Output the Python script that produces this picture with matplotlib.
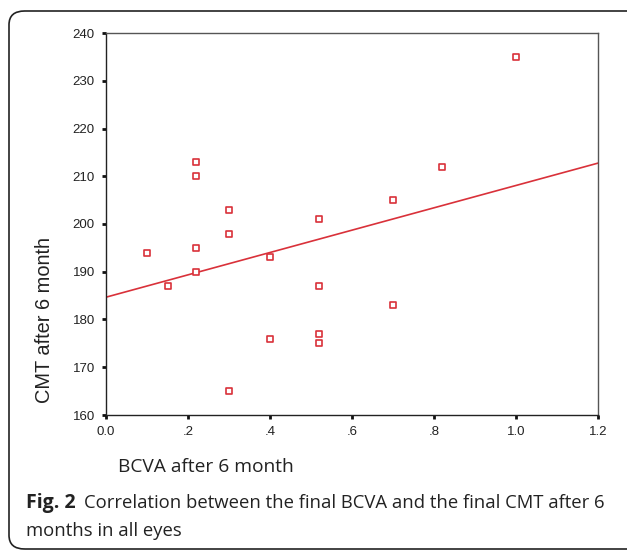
import numpy as np
import matplotlib.pyplot as plt
from matplotlib.patches import FancyBboxPatch

# Datos: BCVA y CMT a los 6 meses
bcva = [0.10, 0.15, 0.22, 0.22, 0.22, 0.22, 0.30, 0.30, 0.30, 0.40, 0.40,
        0.52, 0.52, 0.52, 0.52, 0.70, 0.70, 0.82, 1.00]
cmt = [194, 187, 213, 210, 195, 190, 203, 198, 165, 193, 176,
       201, 187, 177, 175, 205, 183, 212, 235]

x_ticks = [0.0, 0.2, 0.4, 0.6, 0.8, 1.0, 1.2]
x_labels = ["0.0", ".2", ".4", ".6", ".8", "1.0", "1.2"]
y_ticks = [160, 170, 180, 190, 200, 210, 220, 230, 240]

red = "#d9313a"
cap_font = "Open Sans"

fig = plt.figure(figsize=(6.27, 5.52), dpi=100)

# Marco redondeado de la figura
frame = FancyBboxPatch((9 / 627, 3 / 552), 640 / 627, 538 / 552,
                       boxstyle="round,pad=0,rounding_size=0.025",
                       transform=fig.transFigure, fill=False,
                       edgecolor="#222222", linewidth=1.2)
fig.patches.append(frame)

ax = fig.add_axes([106 / 627, 137 / 552, 492 / 627, 382 / 552])

# Recta de regresion por minimos cuadrados
m, b = np.polyfit(bcva, cmt, 1)
xs = np.array([0.0, 1.2])
ax.plot(xs, m * xs + b, color=red, linewidth=1.2, zorder=2)

ax.scatter(bcva, cmt, marker="s", s=22, facecolors="white",
           edgecolors=red, linewidths=1.2, zorder=3)

ax.set_xlim(0, 1.2)
ax.set_ylim(160, 240)
ax.set_xticks(x_ticks)
ax.set_xticklabels(x_labels)
ax.set_yticks(y_ticks)

for s in ax.spines.values():
    s.set_color("#555555")
    s.set_linewidth(1.0)
ax.spines["left"].set_color("#222222")
ax.spines["bottom"].set_color("#222222")

ax.tick_params(direction="out", length=3, width=2, color="#111111",
               labelsize=9.5, pad=5, labelcolor="#222222")
for lab in ax.get_xticklabels() + ax.get_yticklabels():
    lab.set_family("Liberation Sans")

fig.text(45 / 627, 1 - 320 / 552, "CMT after 6 month", rotation=90,
         ha="center", va="center", fontsize=14.4, family="Liberation Sans",
         color="#222222")
fig.text(118 / 627, 1 - 467 / 552, "BCVA after 6 month", ha="left",
         va="center", fontsize=13.8, family=cap_font, color="#222222")

fig.text(26 / 627, 1 - 503 / 552, "Fig. 2", ha="left", va="center",
         fontsize=14, family=cap_font, weight="bold", color="#222222")
fig.text(84 / 627, 1 - 503 / 552,
         "Correlation between the final BCVA and the final CMT after 6",
         ha="left", va="center", fontsize=13.3, family=cap_font,
         color="#222222")
fig.text(26 / 627, 1 - 531 / 552, "months in all eyes", ha="left",
         va="center", fontsize=13.3, family=cap_font, color="#222222")

fig.savefig("out.png", dpi=100)
plt.close(fig)
